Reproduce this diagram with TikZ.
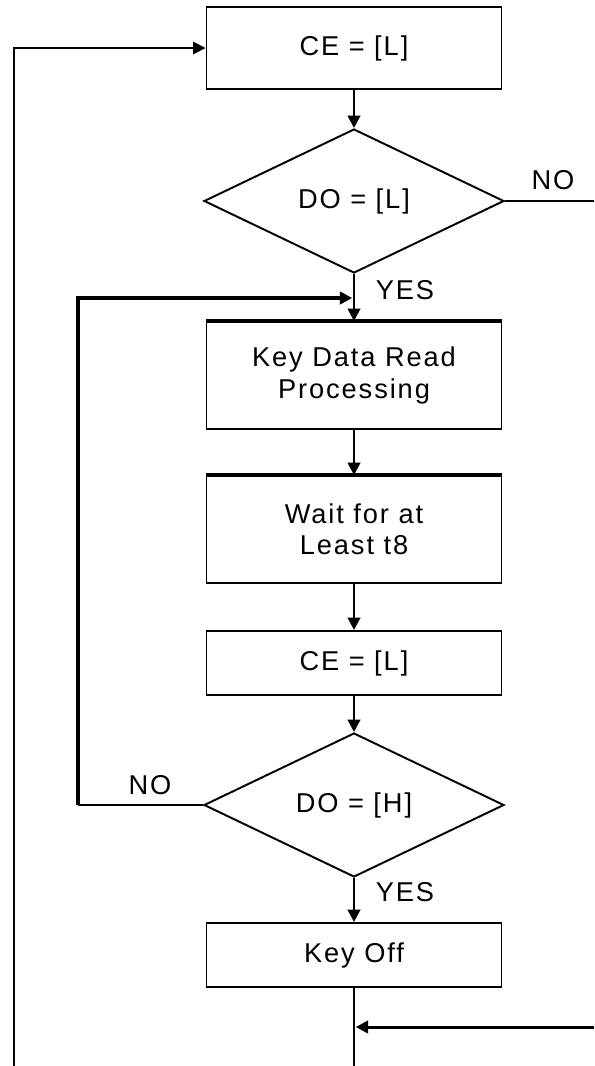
\documentclass[tikz,border=0pt]{standalone}
\usepackage{fontspec}
\setmainfont{Liberation Sans}[LetterSpace=7]
\usepackage{tikz}
\usetikzlibrary{shapes.geometric,arrows.meta}

\begin{document}
\begin{tikzpicture}
                \useasboundingbox (0,0) rectangle (11.88,-21.32);
                \begin{scope}[every node/.style={draw, line width=1.1pt, inner sep=1, minimum width=5.9cm, align=center, font=\fontsize{15.5}{17.8}\selectfont}]
                        \node [minimum height=1.64cm] (ceA) at (7.08,-0.96) {CE = [L]};
                        \node [diamond, minimum width=6cm, minimum height=2.88cm, inner sep=0] (doL) at (7.08,-4.02) {DO = [L]};
                        \node [minimum height=2.14cm] (keyRead) at (7.08,-7.51) {Key Data Read\\Processing};
                        \node [minimum height=2.14cm] (waitT) at (7.08,-10.59) {Wait for at\\Least t8};
                        \node [minimum height=1.28cm] (ceB) at (7.08,-13.26) {CE = [L]};
                        \node [diamond, minimum width=6cm, minimum height=2.88cm, inner sep=0] (doH) at (7.08,-16.1) {DO = [H]};
                        \node [minimum height=1.28cm] (keyOff) at (7.08,-19.1) {Key Off};
                \end{scope}
                % heavier top edges
                \draw [line width=2.2pt] (keyRead.north west) -- (keyRead.north east);
                \draw [line width=2.2pt] (waitT.north west) -- (waitT.north east);
                \begin{scope}[every node/.style={font=\fontsize{15.5}{17.8}\selectfont, inner sep=1}]
                        \node (noA) at (11.06,-3.6) {NO};
                        \node (yesA) at (8.1,-5.8) {YES};
                        \node (noB) at (3.0,-15.7) {NO};
                        \node (yesB) at (8.1,-17.84) {YES};
                \end{scope}
                \coordinate (noEnd) at (11.88,-4.02);
                \coordinate (joinTop) at (7.08,-5.96);
                \coordinate (loopTop) at (1.56,-5.96);
                \coordinate (loopBot) at (1.56,-16.1);
                \coordinate (leftBot) at (0.28,-21.32);
                \coordinate (joinBot) at (7.08,-20.54);
                \coordinate (inRight) at (11.88,-20.54);
                \coordinate (downEnd) at (7.08,-21.32);
                \begin{scope}[every path/.style={line width=1.5pt, -{Triangle[length=7pt,width=7pt]}}]
                        \path (ceA) edge (doL);
                        \path (doL) edge (keyRead);
                        \path (keyRead) edge (waitT);
                        \path (waitT) edge (ceB);
                        \path (ceB) edge (doH);
                        \path (doH) edge (keyOff);
                \end{scope}
                \draw [line width=1.1pt] (doL.east) -- (noEnd);
                \draw [line width=1.5pt] (keyOff.south) -- (downEnd);
                \draw [line width=1.1pt, -{Triangle[length=7pt,width=7pt]}] (leftBot) |- (ceA.west);
                \draw [line width=1.1pt] (doH.west) -- (loopBot);
                \draw [line width=1.9pt, -{Triangle[length=7pt,width=7pt]}, shorten >=1pt] (loopBot) -- (loopTop) -- (joinTop);
                \draw [line width=1.7pt, -{Triangle[length=7pt,width=7pt]}, shorten >=1pt] (inRight) -- (joinBot);
\end{tikzpicture}
\end{document}
